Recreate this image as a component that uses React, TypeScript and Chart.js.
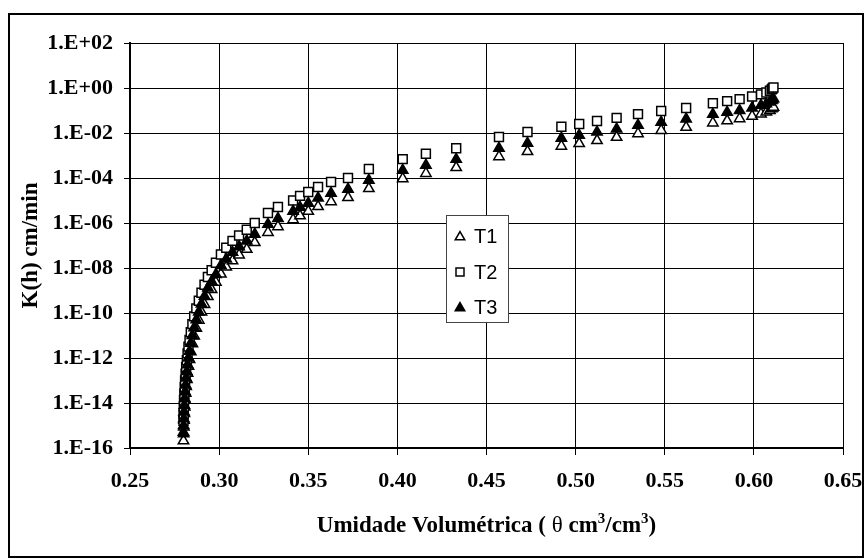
import { useEffect, useRef } from "react";
import { Chart, registerables } from "chart.js";

Chart.register(...registerables);

// Volumetric water content (cm3/cm3), shared by the three treatments
const theta = [
  0.28, 0.2801, 0.2802, 0.2803, 0.2805, 0.2807, 0.2809, 0.2812, 0.2815, 0.2819,
  0.2823, 0.2828, 0.2834, 0.2841, 0.285, 0.286, 0.2872, 0.2886, 0.2901, 0.2918,
  0.2937, 0.2958, 0.2982, 0.301, 0.304, 0.3075, 0.3112, 0.3155, 0.32, 0.3274,
  0.333, 0.3415, 0.3454, 0.35, 0.3555, 0.3628, 0.3723, 0.384, 0.403, 0.416,
  0.433, 0.457, 0.473, 0.492, 0.502, 0.512, 0.523, 0.535, 0.548, 0.562,
  0.577, 0.585, 0.592, 0.599, 0.604, 0.607, 0.609, 0.61, 0.6105, 0.611,
];

// Hydraulic conductivity K(h) in cm/min
const kT1 = [
  2.1e-16, 4.3e-16, 8.5e-16, 1.7e-15, 3.4e-15, 6.7e-15, 1.35e-14, 2.7e-14, 5.4e-14, 1.1e-13,
  2.1e-13, 4.3e-13, 8.5e-13, 1.9e-12, 4.3e-12, 9.6e-12, 2.1e-11, 4.8e-11, 1.1e-10, 2.4e-10,
  5.4e-10, 1.1e-9, 2.3e-9, 5.4e-9, 1.1e-8, 2.1e-8, 3.8e-8, 6.8e-8, 1.35e-7, 3.8e-7,
  6.9e-7, 1.4e-6, 2.1e-6, 3.3e-6, 5.4e-6, 8.9e-6, 1.35e-5, 3.4e-5, 9.3e-5, 1.6e-4,
  2.9e-4, 8.9e-4, 1.5e-3, 2.6e-3, 3.4e-3, 4.6e-3, 6.4e-3, 9.3e-3, 1.3e-2, 1.8e-2,
  2.8e-2, 3.5e-2, 4.3e-2, 5.6e-2, 7.0e-2, 8.5e-2, 0.1, 0.12, 0.13, 0.14,
];

const kT2 = [
  1.6e-15, 3.2e-15, 6.3e-15, 1.3e-14, 2.5e-14, 5.0e-14, 1.0e-13, 2.0e-13, 4.0e-13, 7.9e-13,
  1.6e-12, 3.2e-12, 6.3e-12, 1.4e-11, 3.2e-11, 7.1e-11, 1.6e-10, 3.5e-10, 7.9e-10, 1.8e-9,
  4.0e-9, 7.9e-9, 1.7e-8, 4.0e-8, 7.9e-8, 1.6e-7, 2.8e-7, 5.0e-7, 1.0e-6, 2.8e-6,
  5.1e-6, 1.0e-5, 1.6e-5, 2.4e-5, 4.0e-5, 6.6e-5, 1.0e-4, 2.5e-4, 6.9e-4, 1.2e-3,
  2.1e-3, 6.6e-3, 1.1e-2, 1.9e-2, 2.5e-2, 3.4e-2, 4.7e-2, 6.9e-2, 9.5e-2, 0.13,
  0.21, 0.26, 0.32, 0.42, 0.52, 0.63, 0.76, 0.87, 0.95, 1.05,
];

const kT3 = [
  5.0e-16, 1.0e-15, 2.0e-15, 4.0e-15, 7.9e-15, 1.6e-14, 3.2e-14, 6.3e-14, 1.3e-13, 2.5e-13,
  5.0e-13, 1.0e-12, 2.0e-12, 4.5e-12, 1.0e-11, 2.2e-11, 5.0e-11, 1.1e-10, 2.5e-10, 5.6e-10,
  1.3e-9, 2.5e-9, 5.2e-9, 1.3e-8, 2.5e-8, 5.0e-8, 8.9e-8, 1.6e-7, 3.2e-7, 8.7e-7,
  1.6e-6, 3.3e-6, 5.0e-6, 7.6e-6, 1.3e-5, 2.1e-5, 3.2e-5, 7.9e-5, 2.2e-4, 3.7e-4,
  6.8e-4, 2.1e-3, 3.5e-3, 5.9e-3, 7.9e-3, 1.1e-2, 1.5e-2, 2.2e-2, 3.0e-2, 4.2e-2,
  6.8e-2, 8.3e-2, 0.1, 0.13, 0.17, 0.2, 0.24, 0.28, 0.3, 0.33,
];

const seriesNames = ["T1", "T2", "T3"];
const xTicks = [0.25, 0.3, 0.35, 0.4, 0.45, 0.5, 0.55, 0.6, 0.65];
const yTicks = [1e-16, 1e-14, 1e-12, 1e-10, 1e-8, 1e-6, 1e-4, 1e-2, 1, 1e2];

const SERIF = '"Liberation Serif", "Times New Roman", serif';
const SANS = '"Liberation Sans", Arial, sans-serif';

function expLabel(v: number): string {
  const e = Math.round(Math.log10(v));
  const sign = e < 0 ? "-" : "+";
  return "1.E" + sign + String(Math.abs(e)).padStart(2, "0");
}

function toPoints(ks: number[]) {
  return theta.map((t, i) => ({ x: t, y: ks[i] }));
}

function triangle(ctx: CanvasRenderingContext2D, x: number, y: number, r: number) {
  ctx.beginPath();
  for (let i = 0; i < 3; i++) {
    const a = (i * 2 * Math.PI) / 3;
    const px = x + Math.sin(a) * r;
    const py = y - Math.cos(a) * r;
    if (i === 0) ctx.moveTo(px, py);
    else ctx.lineTo(px, py);
  }
  ctx.closePath();
}

// Frame, axis titles and the inset legend
const decorations = {
  id: "decorations",
  afterDatasetsDraw(chart: Chart) {
    const ctx = chart.ctx;
    const area = chart.chartArea;
    ctx.save();

    // legend box
    const bx = 446, by = 215, bw = 62, bh = 107;
    ctx.fillStyle = "#fff";
    ctx.fillRect(bx, by, bw, bh);
    ctx.strokeStyle = "#444";
    ctx.lineWidth = 1;
    ctx.strokeRect(bx + 0.5, by + 0.5, bw, bh);

    const rows = [236, 272, 307];
    ctx.font = "20px " + SANS;
    ctx.textAlign = "left";
    ctx.textBaseline = "middle";
    rows.forEach((ry, i) => {
      const mx = 460;
      ctx.lineWidth = 1.5;
      ctx.strokeStyle = "#000";
      if (i === 0) {
        triangle(ctx, mx, ry + 1, 5.5);
        ctx.fillStyle = "#fff";
        ctx.fill();
        ctx.stroke();
      } else if (i === 1) {
        ctx.fillStyle = "#fff";
        ctx.fillRect(mx - 4, ry - 4, 8, 8);
        ctx.strokeRect(mx - 4, ry - 4, 8, 8);
      } else {
        triangle(ctx, mx, ry + 1, 5.5);
        ctx.fillStyle = "#000";
        ctx.fill();
        ctx.stroke();
      }
      ctx.fillStyle = "#000";
      ctx.fillText(seriesNames[i], 474, ry + 1);
    });

    // y axis title
    ctx.fillStyle = "#000";
    ctx.font = "bold 23px " + SERIF;
    ctx.save();
    ctx.translate(31, (area.top + area.bottom) / 2);
    ctx.rotate(-Math.PI / 2);
    ctx.textAlign = "center";
    ctx.textBaseline = "middle";
    ctx.fillText("K(h) cm/min", 0, 0);
    ctx.restore();

    // x axis title with superscripts
    const parts: { t: string; font: string; dy: number }[] = [
      { t: "Umidade Volumétrica ( ", font: "bold 23px " + SERIF, dy: 0 },
      { t: "θ", font: "23px " + SERIF, dy: 0 },
      { t: " cm", font: "bold 23px " + SERIF, dy: 0 },
      { t: "3", font: "bold 15px " + SERIF, dy: -9 },
      { t: "/cm", font: "bold 23px " + SERIF, dy: 0 },
      { t: "3", font: "bold 15px " + SERIF, dy: -9 },
      { t: ")", font: "bold 23px " + SERIF, dy: 0 },
    ];
    let total = 0;
    const widths = parts.map((p) => {
      ctx.font = p.font;
      const w = ctx.measureText(p.t).width;
      total += w;
      return w;
    });
    let cx = (area.left + area.right) / 2 - total / 2;
    const baseY = 532;
    ctx.textAlign = "left";
    ctx.textBaseline = "alphabetic";
    parts.forEach((p, i) => {
      ctx.font = p.font;
      ctx.fillText(p.t, cx, baseY + p.dy);
      cx += widths[i];
    });

    // outer frame
    ctx.strokeStyle = "#000";
    ctx.lineWidth = 2;
    ctx.strokeRect(9, 14, 854, 543);
    ctx.restore();
  },
};

export default function App() {
  const canvasRef = useRef<HTMLCanvasElement | null>(null);

  useEffect(() => {
    if (!canvasRef.current) return;
    const chart = new Chart(canvasRef.current, {
      type: "scatter",
      data: {
        datasets: [
          {
            label: seriesNames[0],
            data: toPoints(kT1),
            pointStyle: "triangle",
            radius: 6,
            borderWidth: 1.5,
            borderColor: "#000",
            backgroundColor: "#fff",
            order: 3,
          },
          {
            label: seriesNames[1],
            data: toPoints(kT2),
            pointStyle: "rect",
            radius: 6.3,
            borderWidth: 1.5,
            borderColor: "#000",
            backgroundColor: "#fff",
            order: 2,
          },
          {
            label: seriesNames[2],
            data: toPoints(kT3),
            pointStyle: "triangle",
            radius: 6,
            borderWidth: 1.5,
            borderColor: "#000",
            backgroundColor: "#000",
            order: 1,
          },
        ],
      },
      options: {
        responsive: false,
        animation: false,
        events: [],
        layout: { padding: { left: 0, top: 43, right: 23, bottom: 0 } },
        plugins: {
          legend: { display: false },
          tooltip: { enabled: false },
          title: { display: false },
        },
        scales: {
          x: {
            type: "linear",
            min: 0.25,
            max: 0.65,
            afterBuildTicks: (s: any) => {
              s.ticks = xTicks.map((v) => ({ value: v }));
            },
            afterFit: (s: any) => {
              s.height = 111;
              s.paddingLeft = 0;
              s.paddingRight = 0;
            },
            ticks: {
              autoSkip: false,
              maxRotation: 0,
              padding: 13,
              color: "#000",
              font: { family: SERIF, size: 22, weight: "bold" },
              callback: (v: any) => Number(v).toFixed(2),
            },
            grid: { color: "#000", lineWidth: 1, tickLength: 7 },
            border: { color: "#000", width: 2 },
          },
          y: {
            type: "logarithmic",
            min: 1e-16,
            max: 100,
            afterBuildTicks: (s: any) => {
              s.ticks = yTicks.map((v) => ({ value: v }));
            },
            afterFit: (s: any) => {
              s.width = 130;
              s.paddingTop = 0;
              s.paddingBottom = 0;
            },
            ticks: {
              autoSkip: false,
              padding: 11,
              color: "#000",
              font: { family: SERIF, size: 22, weight: "bold" },
              callback: (v: any) => expLabel(Number(v)),
            },
            grid: { color: "#000", lineWidth: 1, tickLength: 6 },
            border: { color: "#000", width: 2 },
          },
        },
      },
      plugins: [decorations],
    });
    return () => chart.destroy();
  }, []);

  return (
    <div style={{ position: "absolute", left: 0, top: 0, width: 866, height: 559, background: "#fff" }}>
      <canvas ref={canvasRef} width={866} height={559} />
    </div>
  );
}
